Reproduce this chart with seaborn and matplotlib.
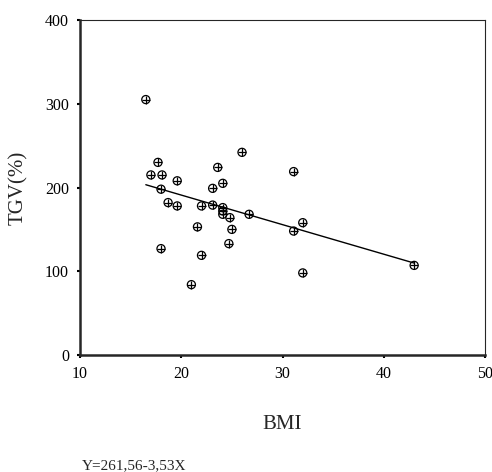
import numpy as np
import pandas as pd
import matplotlib
matplotlib.use("Agg")
import matplotlib.pyplot as plt
import seaborn as sns

# ============================================================
# DATA
# ============================================================

bmi = [16.5, 17.7, 17.0, 18.1, 18.0, 19.6, 18.7, 19.6, 18.0, 21.6,
       22.0, 22.0, 21.0, 23.1, 23.1, 23.6, 24.1, 24.1, 24.1, 24.1,
       24.8, 25.0, 24.7, 26.0, 26.7, 31.1, 31.1, 32.0, 32.0, 43.0]
tgv = [305, 230, 215, 215, 198, 208, 182, 178, 127, 153,
       178, 119, 84, 199, 179, 224, 205, 176, 172, 168,
       164, 150, 133, 242, 168, 219, 148, 158, 98, 107]

fit_intercept = 261.56
fit_slope = -3.53

x_ticks = [10, 20, 30, 40, 50]
y_ticks = [0, 100, 200, 300, 400]

# ============================================================
# STYLE
# ============================================================

sns.set_style("ticks")
plt.rcParams["font.family"] = ["Liberation Serif", "DejaVu Serif"]

df = pd.DataFrame({"BMI": bmi, "TGV": tgv})

x_fit = np.array([min(bmi), max(bmi)])
fit_df = pd.DataFrame({"BMI": x_fit, "TGV": fit_intercept + fit_slope * x_fit})

fig = plt.figure(figsize=(4.92, 4.72), dpi=100)
ax = fig.add_axes([0.1626, 0.2479, 0.8232, 0.7097])

# fitted line
sns.lineplot(data=fit_df, x="BMI", y="TGV", ax=ax, color="black", linewidth=1.0)

# circle-plus markers
sns.scatterplot(data=df, x="BMI", y="TGV", ax=ax, marker="o", s=34,
                facecolor="none", edgecolor="black", linewidth=0.9, zorder=3)
sns.scatterplot(data=df, x="BMI", y="TGV", ax=ax, marker="+", s=34,
                color="black", linewidth=0.9, zorder=3)

ax.set_xlim(10, 50)
ax.set_ylim(0, 400)
ax.set_xticks(x_ticks)
ax.set_yticks(y_ticks)
ax.tick_params(axis="both", direction="out", length=2, width=1.5,
               labelsize=11.5, pad=6, colors="black")

for side in ["left", "bottom"]:
    ax.spines[side].set_linewidth(1.8)
for side in ["top", "right"]:
    ax.spines[side].set_visible(True)
    ax.spines[side].set_linewidth(0.8)

ax.set_xlabel("BMI", fontsize=15, labelpad=24)
ax.set_ylabel("TGV(%)", fontsize=15, labelpad=12)

fig.text(82 / 492, 1 - 466 / 472, "Y=261,56-3,53X", fontsize=11,
         ha="left", va="center")

fig.savefig("out.png", dpi=100)
plt.close(fig)
